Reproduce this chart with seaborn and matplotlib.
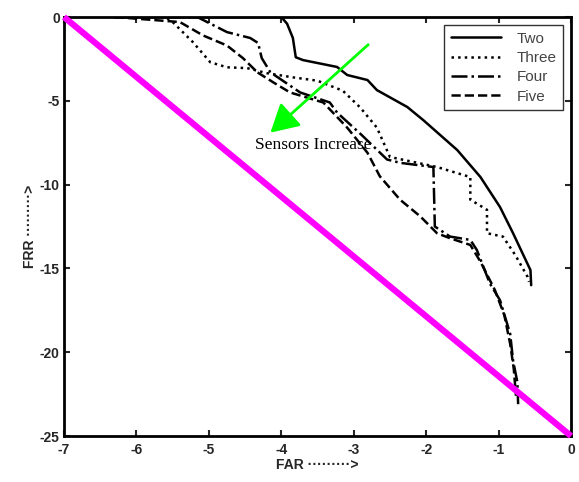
import pandas as pd
import matplotlib
matplotlib.use("Agg")
import matplotlib.pyplot as plt
import seaborn as sns

# curve values (FAR on x, FRR on y)
two_x = [-6.3, -4.0, -3.92, -3.84, -3.8, -3.70, -3.23, -3.09, -2.81, -2.68, -2.26, -2.04, -1.57, -1.25, -0.98, -0.80, -0.56, -0.55]
two_y = [0, 0, -0.4, -1.25, -2.4, -2.57, -2.98, -3.46, -3.76, -4.36, -5.37, -6.15, -7.94, -9.55, -11.34, -12.9, -15.1, -16.0]

three_x = [-6.3, -5.6, -5.5, -5.22, -4.98, -4.75, -4.47, -4.2, -3.84, -3.5, -3.15, -2.91, -2.68, -2.5, -2.12, -1.85,
           -1.39, -1.39, -1.16, -1.16, -0.94, -0.77, -0.6, -0.58]
three_y = [0, 0, -0.3, -1.5, -2.7, -3.0, -3.05, -3.35, -3.6, -3.8, -4.4, -5.4, -6.6, -8.35, -8.7, -8.95,
           -9.55, -10.9, -11.5, -12.9, -13.1, -14.2, -15.5, -15.8]

four_x = [-6.3, -5.16, -4.75, -4.43, -4.32, -4.27, -4.15, -3.74, -3.33, -3.23, -2.9, -2.54, -2.36, -1.90, -1.88,
          -1.67, -1.39, -1.3, -1.12, -0.98, -0.84, -0.80, -0.74, -0.73]
four_y = [0, 0, -0.9, -1.25, -1.55, -2.45, -3.3, -4.5, -5.1, -5.7, -7.0, -8.5, -8.7, -8.95, -12.5,
          -13.1, -13.3, -13.9, -15.9, -16.9, -18.9, -20.5, -21.8, -23.1]

five_x = [-6.3, -5.4, -5.08, -4.75, -4.53, -4.33, -4.11, -3.88, -3.42, -3.09, -2.81, -2.64, -2.36, -2.08, -1.85,
          -1.67, -1.39, -1.25, -1.05, -0.92, -0.84, -0.79, -0.76]
five_y = [0, -0.3, -1.1, -1.7, -2.45, -3.3, -3.9, -4.5, -5.1, -6.6, -8.1, -9.5, -10.9, -11.9, -12.9,
          -13.2, -13.6, -14.6, -16.3, -17.8, -19.5, -21.0, -22.6]

diag_x = [-7, 0]
diag_y = [0, -25]

x_ticks = [-7, -6, -5, -4, -3, -2, -1, 0]
y_ticks = [-25, -20, -15, -10, -5, 0]

series = [("Two", two_x, two_y, "-"),
          ("Three", three_x, three_y, ":"),
          ("Four", four_x, four_y, "-."),
          ("Five", five_x, five_y, "--")]

sns.set_style("ticks")
plt.rcParams["font.family"] = ["Liberation Sans", "DejaVu Sans"]
plt.rcParams["axes.unicode_minus"] = False

fig = plt.figure(figsize=(5.79, 4.82), dpi=100)
ax = fig.add_axes([0.1105, 0.0954, 0.8757, 0.8693])

for name, xs, ys, ls in series:
    df = pd.DataFrame({"FAR": xs, "FRR": ys})
    sns.lineplot(data=df, x="FAR", y="FRR", sort=False, estimator=None, ax=ax,
                 color="black", linestyle=ls, linewidth=1.8, label=name)

ax.plot(diag_x, diag_y, color="#ff00ff", linewidth=4.5, clip_on=False,
        solid_capstyle="butt", zorder=5)

ax.annotate("", xy=(-4.15, -6.9), xytext=(-2.8, -1.65),
            arrowprops=dict(arrowstyle="-|>,head_length=1.7,head_width=0.95",
                            color="#00ff00", lw=2, shrinkA=0, shrinkB=0))
ax.text(-4.36, -7.65, "Sensors Increase", family="Liberation Serif",
        fontsize=12.5, va="center", ha="left", color="black")

ax.set_xlim(-7, 0)
ax.set_ylim(-25, 0)
ax.set_xticks(x_ticks)
ax.set_yticks(y_ticks)
ax.tick_params(direction="in", length=4, width=1.5, top=True, right=True,
               labelsize=10)
ax.tick_params(axis="x", pad=5)
ax.tick_params(axis="y", pad=3)
for lab in ax.get_xticklabels() + ax.get_yticklabels():
    lab.set_fontweight("bold")
for sp in ax.spines.values():
    sp.set_visible(True)
    sp.set_linewidth(2)
    sp.set_color("black")

ax.set_xlabel("FAR ·········>", fontsize=10, fontweight="bold", labelpad=1)
ax.set_ylabel("FRR ·········>", fontsize=10, fontweight="bold", labelpad=2)

leg = ax.legend(loc="upper right", fontsize=11, handlelength=3.3, frameon=True,
                fancybox=False, borderaxespad=0.5, labelspacing=0.35,
                handletextpad=1.0, borderpad=0.45)
leg.get_frame().set_edgecolor("black")
leg.get_frame().set_linewidth(1.0)
for t in leg.get_texts():
    t.set_color("#444444")

fig.savefig("out.png", dpi=100)
